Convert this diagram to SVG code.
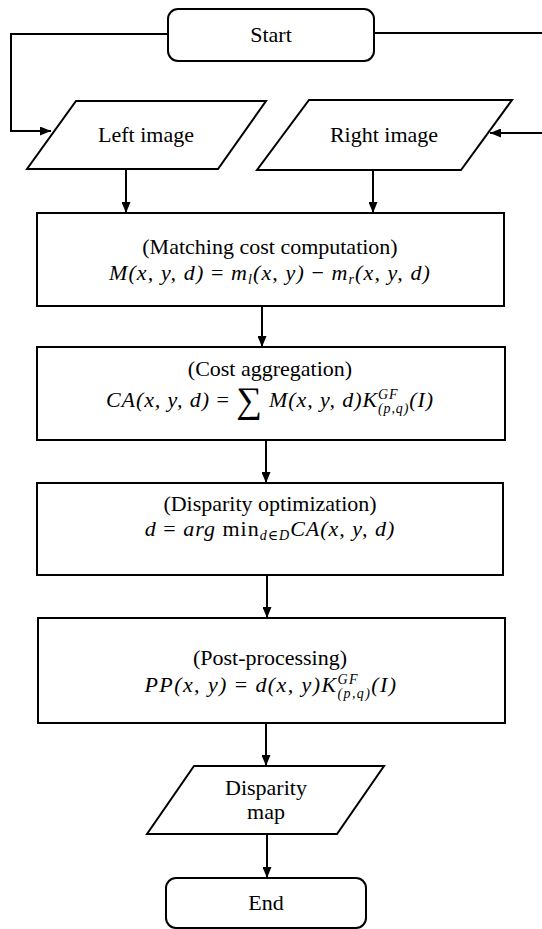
<svg xmlns="http://www.w3.org/2000/svg" width="542" height="929" viewBox="0 0 542 929">
<style>
.box{fill:#fff;stroke:#000;stroke-width:2}
.conn{fill:none;stroke:#000;stroke-width:2}
.t{font-family:"Liberation Serif","Times New Roman",serif;font-size:22px;fill:#000;text-anchor:middle}
.m{font-family:"Liberation Serif","DejaVu Serif",serif;font-size:22px;font-style:italic;fill:#000;text-anchor:middle}
.u{font-style:normal}
.s{font-size:14px}
</style>
<defs>
<marker id="ah" markerWidth="11" markerHeight="9" refX="11" refY="4.5" orient="auto" markerUnits="userSpaceOnUse"><path d="M0,0 L11,4.5 L0,9 z" fill="#000"/></marker>
</defs>
<g id="connectors">
<path class="conn" d="M168,34 H11 V131 H51" marker-end="url(#ah)"/>
<path class="conn" d="M374,33 H548 V133 H490" marker-end="url(#ah)"/>
<path class="conn" d="M126,169 V213" marker-end="url(#ah)"/>
<path class="conn" d="M373,170 V213" marker-end="url(#ah)"/>
<path class="conn" d="M262,306 V347" marker-end="url(#ah)"/>
<path class="conn" d="M266,440 V483" marker-end="url(#ah)"/>
<path class="conn" d="M267,575 V618" marker-end="url(#ah)"/>
<path class="conn" d="M266,723 V766" marker-end="url(#ah)"/>
<path class="conn" d="M267,834 V878" marker-end="url(#ah)"/>
</g>
<g id="start">
<rect class="box" x="168" y="9" width="206" height="52" rx="10"/>
<text class="t" x="271" y="42">Start</text>
</g>
<g id="left-image">
<polygon class="box" points="76,101 266,101 218,169 27,169"/>
<text class="t" x="146" y="142">Left image</text>
</g>
<g id="right-image">
<polygon class="box" points="309,100 512,100 461,170 257,170"/>
<text class="t" x="384" y="142">Right image</text>
</g>
<g id="matching-cost">
<rect class="box" x="37" y="213" width="467" height="93"/>
<text class="t" x="270" y="254">(Matching cost computation)</text>
<text class="m" x="270" y="280" letter-spacing="1.1">M(x, y, d) <tspan class="u">=</tspan> m<tspan class="s" dy="4">l</tspan><tspan dy="-4">(x, y) </tspan><tspan class="u">−</tspan> m<tspan class="s" dy="4">r</tspan><tspan dy="-4">(x, y, d)</tspan></text>
</g>
<g id="cost-aggregation">
<rect class="box" x="37" y="347" width="468" height="93"/>
<text class="t" x="270" y="376">(Cost aggregation)</text>
<text class="m" x="270" y="407" letter-spacing="0.9">CA(x, y, d) <tspan class="u">=</tspan> <tspan class="u" font-size="36" dy="5">∑</tspan><tspan dy="-5"> M(x, y, d)K</tspan><tspan class="s" dy="-8">GF</tspan><tspan class="s" dx="-20.5" dy="14">(p,q)</tspan><tspan dy="-6">(I)</tspan></text>
</g>
<g id="disparity-optimization">
<rect class="box" x="37" y="483" width="466" height="92"/>
<text class="t" x="270" y="511">(Disparity optimization)</text>
<text class="m" x="270" y="536" letter-spacing="1">d <tspan class="u">=</tspan> arg <tspan class="u">min</tspan><tspan class="s" dy="4">d∈D</tspan><tspan dy="-4">CA(x, y, d)</tspan></text>
</g>
<g id="post-processing">
<rect class="box" x="38" y="618" width="467" height="105"/>
<text class="t" x="270" y="665">(Post-processing)</text>
<text class="m" x="271" y="692" letter-spacing="1.4">PP(x, y) <tspan class="u">=</tspan> d(x, y)K<tspan class="s" dy="-8">GF</tspan><tspan class="s" dx="-21.5" dy="14">(p,q)</tspan><tspan dy="-6">(I)</tspan></text>
</g>
<g id="disparity-map">
<polygon class="box" points="194,766 384,766 337,834 147,834"/>
<text class="t" x="266" y="795">Disparity</text>
<text class="t" x="266" y="819">map</text>
</g>
<g id="end">
<rect class="box" x="166" y="878" width="200" height="50" rx="10"/>
<text class="t" x="266" y="910">End</text>
</g>
</svg>
